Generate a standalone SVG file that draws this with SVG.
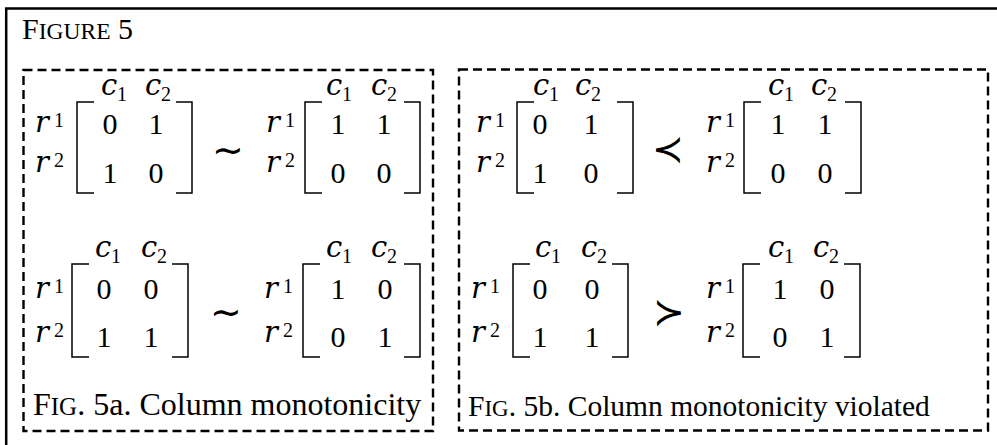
<svg xmlns="http://www.w3.org/2000/svg" width="997" height="445" viewBox="0 0 997 445">
<style>
.frame{fill:none;stroke:#000;stroke-width:2.5}
.dash{fill:none;stroke:#000;stroke-width:2.4;stroke-dasharray:9 5}
.br{fill:none;stroke:#000;stroke-width:1.5}
.t{font-family:"Liberation Serif","Times New Roman",serif;fill:#000}
.v{font-family:"DejaVu Serif",serif;font-style:italic;font-size:29px;fill:#000}
.d{font-family:"Liberation Serif","Times New Roman",serif;font-size:30px;fill:#000;text-anchor:middle}
.s{font-family:"Liberation Serif","Times New Roman",serif;font-size:20px;fill:#000}
.rel{font-family:"DejaVu Sans",sans-serif;font-size:38px;fill:#000;text-anchor:middle}
</style>
<rect width="997" height="445" fill="#fff"/>
<rect class="frame" x="6.2" y="8.5" width="1000" height="450"/>
<text class="t" x="22" y="39" font-size="30">F<tspan font-size="23.5">IGURE</tspan> 5</text>
<g id="panel-a">
<rect class="dash" x="23.5" y="70" width="409.5" height="361"/>
<text class="t" x="33" y="415" font-size="32">F<tspan font-size="25">IG</tspan>. 5a. Column monotonicity</text>
</g>
<g id="panel-b">
<rect class="dash" x="459" y="69.5" width="529" height="361"/>
<text class="t" x="468" y="416" font-size="29.5">F<tspan font-size="23">IG</tspan>. 5b. Column monotonicity violated</text>
</g>
<g id="m1">
<path class="br" d="M94,102H77V193H94M176,102H192V193H176"/>
<text class="v" x="101" y="95">c</text><text class="s" x="117" y="101">1</text>
<text class="v" x="145" y="95">c</text><text class="s" x="161" y="101">2</text>
<text class="v" x="35" y="132">r</text><text class="s" x="54" y="127">1</text>
<text class="v" x="35" y="172">r</text><text class="s" x="54" y="167">2</text>
<text class="d" x="110" y="134">0</text><text class="d" x="156" y="134">1</text>
<text class="d" x="110" y="183">1</text><text class="d" x="156" y="183">0</text>
</g>
<g id="m2">
<path class="br" d="M322,102H305V193H322M404,102H420V193H404"/>
<text class="v" x="326" y="95">c</text><text class="s" x="342" y="101">1</text>
<text class="v" x="371" y="95">c</text><text class="s" x="387" y="101">2</text>
<text class="v" x="266" y="132">r</text><text class="s" x="285" y="127">1</text>
<text class="v" x="266" y="172">r</text><text class="s" x="285" y="167">2</text>
<text class="d" x="338" y="134">1</text><text class="d" x="384" y="134">1</text>
<text class="d" x="338" y="183">0</text><text class="d" x="384" y="183">0</text>
</g>
<g id="m3">
<path class="br" d="M89,264H72V357H89M172,264H188V357H172"/>
<text class="v" x="95" y="257">c</text><text class="s" x="111" y="263">1</text>
<text class="v" x="141" y="257">c</text><text class="s" x="157" y="263">2</text>
<text class="v" x="35" y="298">r</text><text class="s" x="54" y="293">1</text>
<text class="v" x="35" y="342">r</text><text class="s" x="54" y="337">2</text>
<text class="d" x="104" y="299">0</text><text class="d" x="151" y="299">0</text>
<text class="d" x="104" y="347">1</text><text class="d" x="151" y="347">1</text>
</g>
<g id="m4">
<path class="br" d="M320,264H303V357H320M404,264H420V357H404"/>
<text class="v" x="326" y="257">c</text><text class="s" x="342" y="263">1</text>
<text class="v" x="371" y="257">c</text><text class="s" x="387" y="263">2</text>
<text class="v" x="264" y="298">r</text><text class="s" x="283" y="293">1</text>
<text class="v" x="264" y="342">r</text><text class="s" x="283" y="337">2</text>
<text class="d" x="338" y="299">1</text><text class="d" x="385" y="299">0</text>
<text class="d" x="338" y="347">0</text><text class="d" x="385" y="347">1</text>
</g>
<g id="m5">
<path class="br" d="M534,102H517V193H534M617,102H633V193H617"/>
<text class="v" x="533" y="95">c</text><text class="s" x="549" y="101">1</text>
<text class="v" x="575" y="95">c</text><text class="s" x="591" y="101">2</text>
<text class="v" x="476" y="132">r</text><text class="s" x="495" y="127">1</text>
<text class="v" x="476" y="172">r</text><text class="s" x="495" y="167">2</text>
<text class="d" x="540" y="134">0</text><text class="d" x="591" y="134">1</text>
<text class="d" x="540" y="183">1</text><text class="d" x="591" y="183">0</text>
</g>
<g id="m6">
<path class="br" d="M761,102H744V193H761M845,102H861V193H845"/>
<text class="v" x="768" y="95">c</text><text class="s" x="784" y="101">1</text>
<text class="v" x="811" y="95">c</text><text class="s" x="827" y="101">2</text>
<text class="v" x="706" y="132">r</text><text class="s" x="725" y="127">1</text>
<text class="v" x="706" y="172">r</text><text class="s" x="725" y="167">2</text>
<text class="d" x="778" y="134">1</text><text class="d" x="825" y="134">1</text>
<text class="d" x="778" y="183">0</text><text class="d" x="825" y="183">0</text>
</g>
<g id="m7">
<path class="br" d="M530,264H513V357H530M612,264H628V357H612"/>
<text class="v" x="535" y="257">c</text><text class="s" x="551" y="263">1</text>
<text class="v" x="581" y="257">c</text><text class="s" x="597" y="263">2</text>
<text class="v" x="471" y="298">r</text><text class="s" x="490" y="293">1</text>
<text class="v" x="471" y="342">r</text><text class="s" x="490" y="337">2</text>
<text class="d" x="540" y="299">0</text><text class="d" x="592" y="299">0</text>
<text class="d" x="540" y="347">1</text><text class="d" x="592" y="347">1</text>
</g>
<g id="m8">
<path class="br" d="M760,264H743V357H760M844,264H860V357H844"/>
<text class="v" x="768" y="257">c</text><text class="s" x="784" y="263">1</text>
<text class="v" x="813" y="257">c</text><text class="s" x="829" y="263">2</text>
<text class="v" x="706" y="298">r</text><text class="s" x="725" y="293">1</text>
<text class="v" x="706" y="342">r</text><text class="s" x="725" y="337">2</text>
<text class="d" x="780" y="299">1</text><text class="d" x="827" y="299">0</text>
<text class="d" x="780" y="347">0</text><text class="d" x="827" y="347">1</text>
</g>
<g id="relations">
<text class="rel" x="228" y="163">∼</text>
<text class="rel" x="226" y="325">∼</text>
<text class="rel" x="668" y="162">≺</text>
<text class="rel" x="669" y="325">≻</text>
</g>
</svg>
